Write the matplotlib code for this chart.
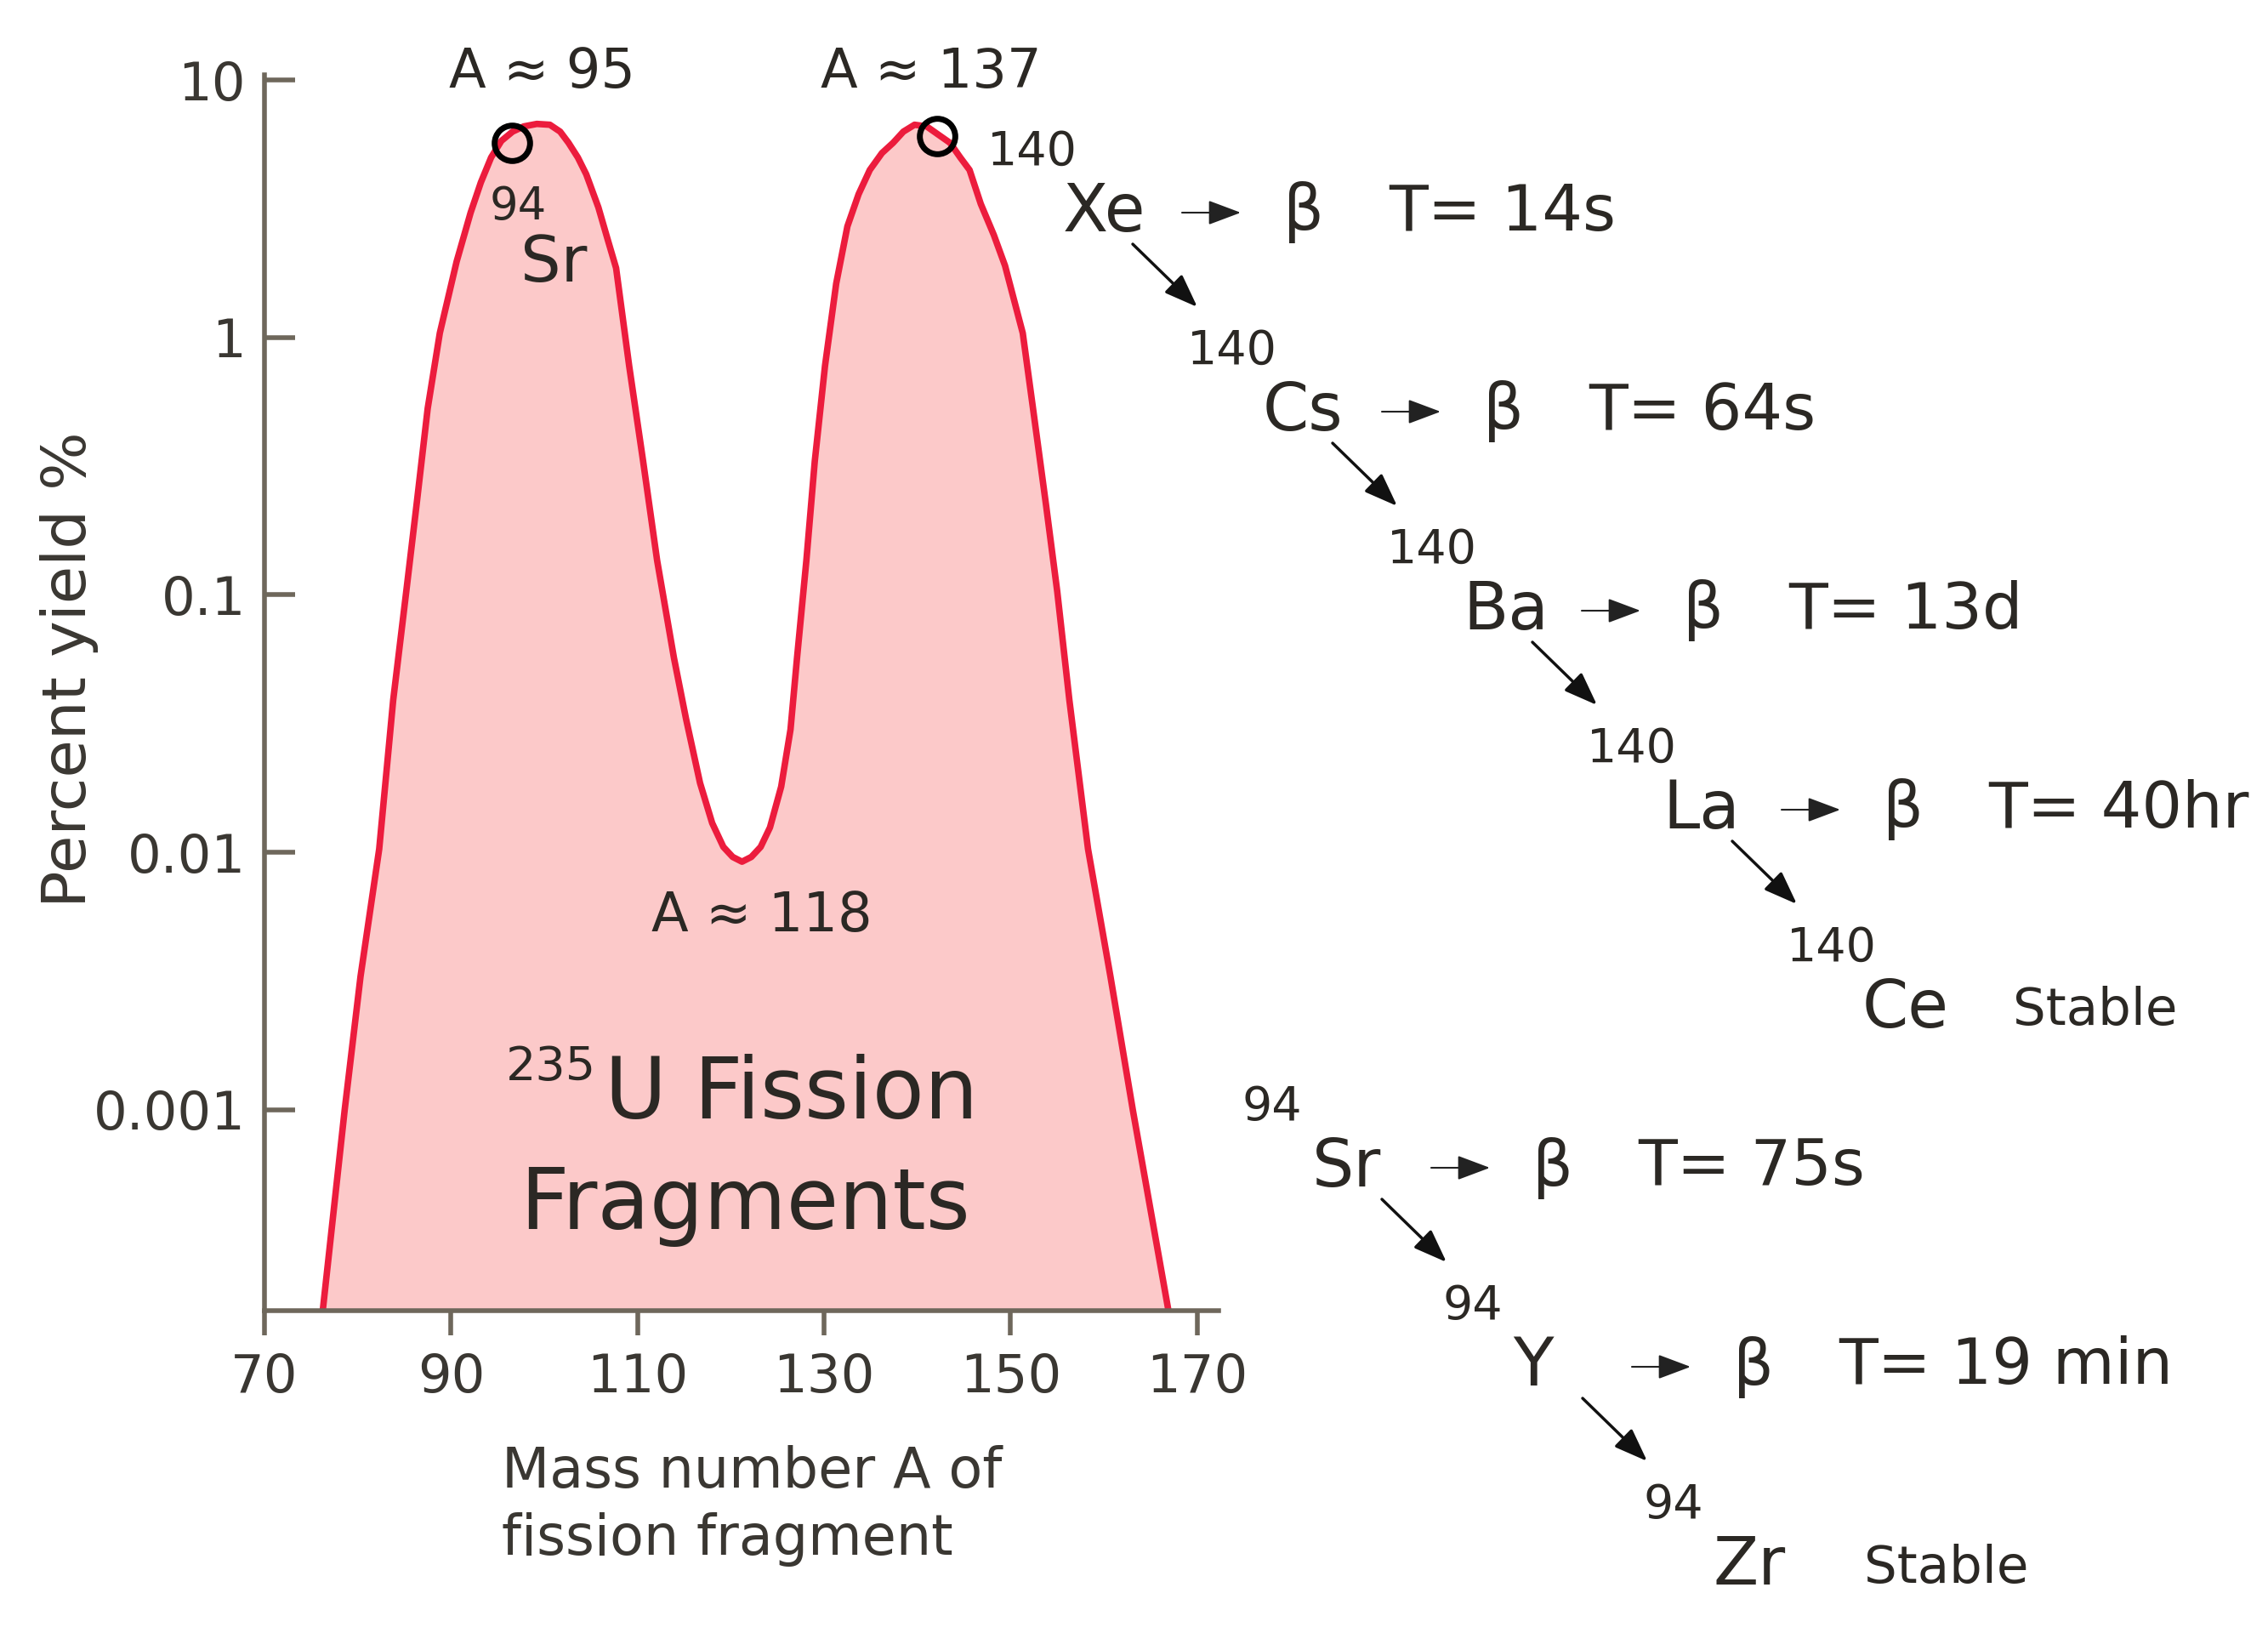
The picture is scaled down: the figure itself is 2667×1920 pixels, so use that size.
import matplotlib
matplotlib.use("Agg")
import matplotlib.pyplot as plt
from matplotlib.ticker import NullLocator

# Fission yield curve of U-235 (mass number, percent yield)
mass_A = [76.2, 78.6, 80.3, 82.3, 83.8, 85.2, 86.3, 87.5, 88.8, 90.6, 92.1, 93.2,
          94.3, 95.4, 96.6, 97.8, 99.2, 100.6, 101.7, 102.6, 103.6, 104.5, 105.8,
          106.8, 107.7, 109.1, 110.6, 112.1, 113.9, 115.2, 116.7, 118.0, 119.2,
          120.2, 121.2, 122.2, 123.2, 124.2, 125.4, 126.4, 127.1, 128.1, 129.0,
          130.1, 131.3, 132.5, 133.7, 134.9, 136.2, 137.4, 138.5, 139.7, 141.0,
          142.2, 143.5, 144.6, 145.6, 146.8, 148.2, 149.4, 151.3, 152.4, 153.8,
          155.0, 156.3, 158.3, 160.7, 163.1, 167.0]
yield_pct = [1.6e-4, 1.0e-3, 3.3e-3, 0.0103, 0.039, 0.103, 0.223, 0.53, 1.04, 1.97, 3.05, 4.0,
             5.0, 5.8, 6.3, 6.6, 6.75, 6.7, 6.3, 5.7, 5.0, 4.3, 3.2,
             2.4, 1.86, 0.776, 0.33, 0.136, 0.057, 0.033, 0.0186, 0.013, 0.0105,
             0.0096, 0.0092, 0.0096, 0.0105, 0.0125, 0.018, 0.030, 0.057, 0.136, 0.33,
             0.776, 1.62, 2.7, 3.6, 4.47, 5.2, 5.7, 6.3, 6.7, 6.6,
             6.15, 5.7, 5.0, 4.47, 3.3, 2.5, 1.9, 1.04, 0.53, 0.223,
             0.103, 0.039, 0.0103, 0.0033, 1.0e-3, 1.6e-4]

# circled fragments (94Sr and 140Xe)
marked_A = [96.5, 142.1]
marked_y = [5.7, 6.05]

x_ticks = [70, 90, 110, 130, 150, 170]
y_ticks = [0.001, 0.01, 0.1, 1, 10]
y_ticklabels = ["0.001", "0.01", "0.1", "1", "10"]

# decay chains
chain140 = ["Xe", "Cs", "Ba", "La", "Ce"]
halflife140 = ["14s", "64s", "13d", "40hr"]
chain94 = ["Sr", "Y", "Zr"]
halflife94 = ["75s", "19 min"]

W, H = 2667, 1920
red = "#ec1c3d"
pink = "#fcc9c9"
axis_col = "#6e675b"
ink = "#2b2824"

fig = plt.figure(figsize=(W / 100, H / 100), dpi=100)
ax = fig.add_axes([311 / W, 1 - 1541 / H, (1433 - 311) / W, (1541 - 87.6) / H])

ax.fill_between(mass_A, yield_pct, 1e-5, color=pink, lw=0)
ax.plot(mass_A, yield_pct, color=red, lw=5.5, solid_joinstyle="round")
ax.plot(marked_A, marked_y, "o", ms=30, mfc="none", mec="black", mew=5)

ax.set_yscale("log")
ax.set_xlim(70, 172.3)
ax.set_ylim(1.66e-4, 10.5)
ax.set_xticks(x_ticks)
ax.set_yticks(y_ticks)
ax.set_yticklabels(y_ticklabels)
ax.yaxis.set_minor_locator(NullLocator())

for s in ["top", "right"]:
    ax.spines[s].set_visible(False)
for s in ["left", "bottom"]:
    ax.spines[s].set_color(axis_col)
    ax.spines[s].set_linewidth(4)

ax.tick_params(axis="y", direction="in", length=26, width=4, pad=16,
               labelsize=45, color=axis_col, labelcolor="#3a3732")
ax.tick_params(axis="x", direction="out", length=21, width=4, pad=14,
               labelsize=45, color=axis_col, labelcolor="#3a3732")

ax.set_ylabel("Percent yield %", fontsize=52, color="#3a3732")
ax.yaxis.set_label_coords(-0.174, 0.519)
ax.set_xlabel("Mass number A of\nfission fragment", fontsize=47, color="#3a3732",
              ha="left", linespacing=1.3)
ax.xaxis.set_label_coords(0.249, -0.109)


def put(x, y, s, size, **kw):
    kw.setdefault("color", ink)
    fig.text(x / W, 1 - y / H, s, fontsize=size, **kw)


def arrow(x0, y0, x1, y1, lw, col):
    ax.annotate("", xy=(x1, H - y1), xycoords="figure pixels",
                xytext=(x0, H - y0), textcoords="figure pixels",
                arrowprops=dict(arrowstyle="-|>,head_length=0.8,head_width=0.3",
                                mutation_scale=30, lw=lw, color=col,
                                shrinkA=0, shrinkB=0),
                annotation_clip=False)


# peak / valley labels and title inside the curve
put(638, 85, "A ≈ 95", 46, ha="center", va="center")
put(1095, 85, "A ≈ 137", 46, ha="center", va="center")
put(609, 243, "94", 38, ha="center", va="center")
put(651, 310, "Sr", 54, ha="center", va="center")
put(896, 1077, "A ≈ 118", 46, ha="center", va="center")
put(701, 1255, "235", 40, ha="right", va="center")
put(711, 1288, "U Fission", 72, ha="left", va="center")
put(876, 1417, "Fragments", 72, ha="center", va="center")


def chain(elements, mass, halflives, x0, y0, step, mass_dx):
    for i, el in enumerate(elements):
        x = x0 + i * step[0]
        y = y0 + i * step[1]
        put(x + mass_dx, y - 71, mass, 40, ha="right", va="center")
        put(x, y, el, 56, ha="left", va="center")
        if i < len(halflives):
            arrow(x + 140, y, x + 209, y, 1.5, "#222222")
            put(x + 259, y, "β", 54, ha="left", va="center")
            put(x + 383, y, "T= " + halflives[i], 54, ha="left", va="center")
            arrow(x + 82, y + 37, x + 158, y + 111, 2.5, "#111111")
        else:
            put(x + 177, y + 3, "Stable", 44, ha="left", va="center")


chain(chain140, "140", halflife140, 1250, 250, (235, 234), 17)
chain(chain94, "94", halflife94, 1543, 1373, (236, 234), -12)

fig.savefig("out.png", dpi=100, facecolor="white")
